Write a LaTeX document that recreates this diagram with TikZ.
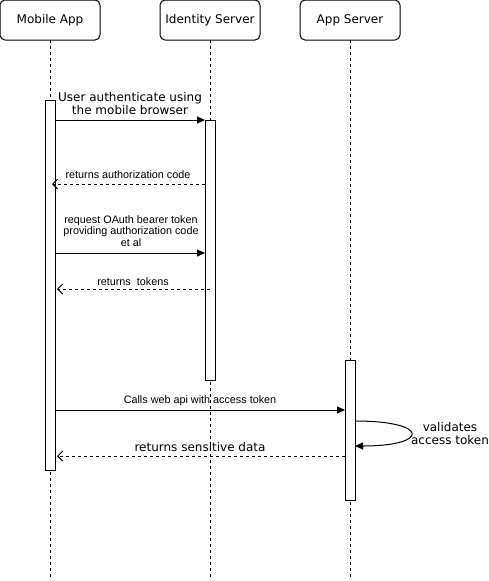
\documentclass[tikz,border=0pt]{standalone}
\usepackage{fontspec}
\setmainfont{DejaVu Sans}
\newfontfamily\arialf{Liberation Sans}
\usetikzlibrary{arrows.meta,calc}
\begin{document}
\begin{tikzpicture}[x=1pt,y=-1pt,
  every node/.style={inner sep=0pt, outer sep=0pt},
  head/.style={draw, rounded corners=5pt, minimum width=100pt, minimum height=40pt, font=\fontsize{12}{14}\selectfont, line width=1pt},
  life/.style={dash pattern=on 3pt off 3pt, line width=1pt},
  bar/.style={draw, fill=white, minimum width=10pt, line width=1pt},
  sync/.style={-{Triangle[length=8pt,width=7pt]}, line width=1pt},
  ret/.style={dash pattern=on 3pt off 3pt, -{Straight Barb[length=5pt,width=10pt]}, line width=1pt},
  big/.style={font=\fontsize{12}{13}\selectfont, align=center},
  small/.style={font=\arialf\fontsize{10.8}{11.8}\selectfont, align=center},
]
\useasboundingbox (0,0) rectangle (489,581);
% participants
\node[head] (ma) at (50,20) {Mobile App};
\node[head] (is) at (210,20) {Identity Server};
\node[head] (as) at (350,20) {App Server};
\coordinate (maend) at (50,577);
\coordinate (isend) at (210,577);
\coordinate (asend) at (350,577);
\draw[life] (ma.south) -- (maend);
\draw[life] (is.south) -- (isend);
\draw[life] (as.south) -- (asend);
% activation bars
\node[bar, minimum height=370pt] (b1) at (50,285) {};
\node[bar, minimum height=260pt] (b2) at (210,250) {};
\node[bar, minimum height=140pt] (b3) at (350,430) {};
% message y levels
\coordinate (y1) at (0,120);
\coordinate (y2) at (0,184);
\coordinate (y2e) at (52,184);
\coordinate (y3) at (0,253);
\coordinate (y4) at (0,289);
\coordinate (y4e) at (57,289);
\coordinate (y5) at (0,410);
\coordinate (yl1) at (0,421);
\coordinate (yl2) at (0,446);
\coordinate (y7) at (0,456);
\coordinate (y7e) at (57,456);
% messages
\draw[sync] (b1.east |- y1) -- (b2.west |- y1);
\node[big] (l1) at (130,103.5) {User authenticate using\\the mobile browser};
\draw[ret] (b2.west |- y2) -- (y2e);
\node[small] (l2) at (128,175) {returns authorization code};
\draw[sync] (b1.east |- y3) -- (b2.west |- y3);
\node[small] (l3) at (131,231) {request OAuth bearer token\\providing authorization code\\et al};
\draw[ret] (b2.center |- y4) -- (y4e);
\node[small] (l4) at (133,282) {returns\ \ tokens};
\draw[sync] (b1.east |- y5) -- (b3.west |- y5);
\node[small] (l5) at (200,401) {Calls web api with access token};
\draw[sync] (b3.east |- yl1) .. controls (430,421) and (430,446) .. (b3.east |- yl2);
\node[big] (l6) at (450,434) {validates\\access token};
\draw[ret] (b3.west |- y7) -- (y7e);
\node[big] (l7) at (200,447) {returns sensitive data};
\end{tikzpicture}
\end{document}
